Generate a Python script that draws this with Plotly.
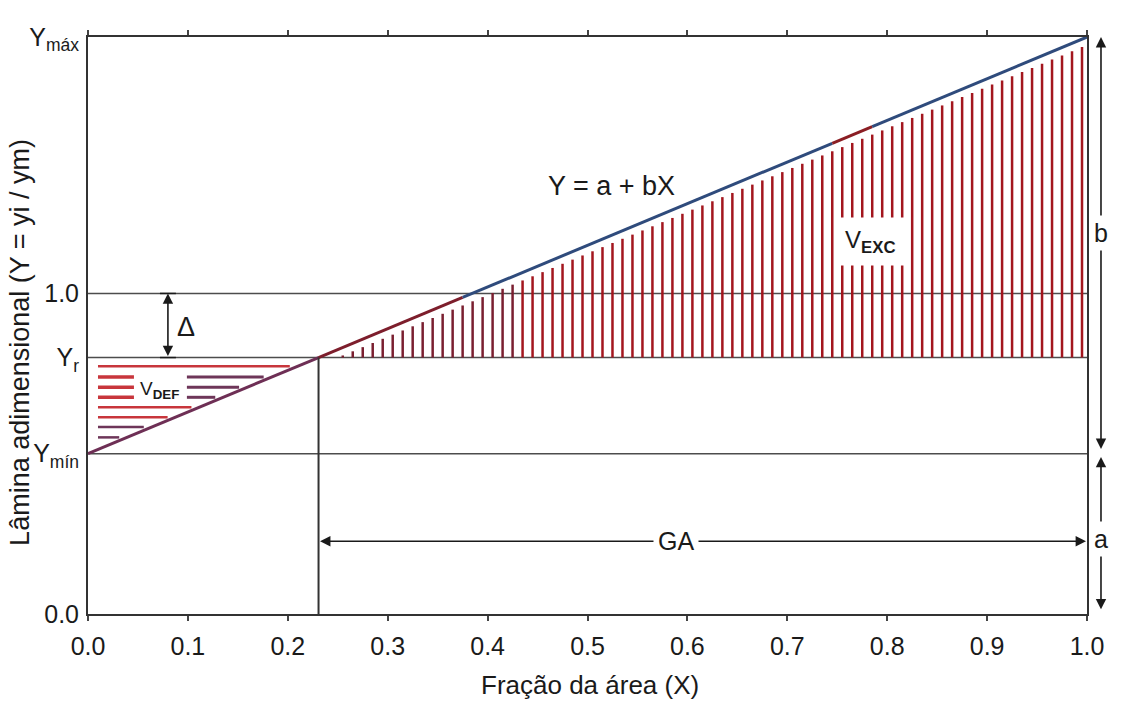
import numpy as np
import plotly.graph_objects as go

# Linear model Y = a + bX
A = 0.5          # intercept (Y at X = 0)
B = 1.3          # slope
Y_R = 0.8        # reference depth Yr
Y_MIN = A
Y_MAX = A + B
X_R = (Y_R - A) / B

# Axis ticks
X_TICKS = [0.0, 0.1, 0.2, 0.3, 0.4, 0.5, 0.6, 0.7, 0.8, 0.9, 1.0]
X_TICK_TEXT = ["0.0", "0.1", "0.2", "0.3", "0.4", "0.5", "0.6", "0.7", "0.8", "0.9", "1.0"]
Y_TICKS = [0.0, Y_MIN, Y_R, 1.0, Y_MAX]
Y_TICK_TEXT = ["0.0", "Y<sub>mín</sub>", "Y<sub>r</sub>", "1.0", "Y<sub>máx</sub>"]

# Horizontal hatch levels of the deficit area (V_DEF)
DEF_LEVELS = [0.773, 0.739, 0.707, 0.676, 0.645, 0.614, 0.583, 0.551]
DEF_COLORS = ["#c8363c", "#c8363c", "#c8363c", "#c8363c", "#c8363c", "#c8363c", "#6e3659", "#6e3659"]
DEF_SPLIT = [False, True, True, True, False, False, False, False]

# Vertical hatch of the excess area (V_EXC)
HATCH_STEP = 0.01
EXC_X = np.round(np.arange(0.255, 1.0, HATCH_STEP), 3)

RED = "#a3161e"
MAROON = "#7a1f30"
NAVY = "#2f4b7c"
FRAME = "#333333"
GRID = "#4d4d4d"
INK = "#1a1a1a"
FONT = "Arial, Liberation Sans, sans-serif"


def y_line(x):
    return A + B * x


fig = go.Figure()

# --- deficit hatch (horizontal strokes between line and Yr)
for lvl, col, split in zip(DEF_LEVELS, DEF_COLORS, DEF_SPLIT):
    x_end = (lvl - A) / B - 0.008
    if split:
        fig.add_trace(go.Scatter(x=[0.01, 0.046], y=[lvl, lvl], mode="lines",
                                 line=dict(color="#c8363c", width=3.5), hoverinfo="skip"))
        fig.add_trace(go.Scatter(x=[0.099, x_end], y=[lvl, lvl], mode="lines",
                                 line=dict(color="#6e3659", width=3), hoverinfo="skip"))
    else:
        fig.add_trace(go.Scatter(x=[0.01, x_end], y=[lvl, lvl], mode="lines",
                                 line=dict(color=col, width=2.5), hoverinfo="skip"))

# --- excess hatch (vertical strokes between Yr and line)
for color, sel in ((MAROON, EXC_X < 0.43), (RED, EXC_X >= 0.43)):
    xs, ys = [], []
    for xv in EXC_X[sel]:
        top = y_line(xv) - 0.025
        if top <= Y_R:
            continue
        xs += [xv, xv, None]
        ys += [Y_R, top, None]
    fig.add_trace(go.Scatter(x=xs, y=ys, mode="lines",
                             line=dict(color=color, width=2.5), hoverinfo="skip"))

# --- the regression line, drawn in coloured pieces
LINE_PIECES = [(0.0, X_R, "#6e2f55"), (X_R, 0.375, "#7d1e2c"), (0.375, 0.745, NAVY),
               (0.745, 0.785, "#8b1e24"), (0.785, 1.0, NAVY)]
for x0, x1, col in LINE_PIECES:
    fig.add_trace(go.Scatter(x=[x0, x1], y=[y_line(x0), y_line(x1)], mode="lines",
                             line=dict(color=col, width=3), hoverinfo="skip"))

# --- reference lines
shapes = []
for yv in (1.0, Y_R, Y_MIN):
    shapes.append(dict(type="line", xref="x", yref="y", x0=0, x1=1, y0=yv, y1=yv,
                       line=dict(color=GRID, width=1.6), layer="below"))
shapes.append(dict(type="line", xref="x", yref="y", x0=X_R, x1=X_R, y0=0, y1=Y_R,
                   line=dict(color=FRAME, width=2)))

annotations = []


def dbl_arrow(x0, y0, x1, y1, xref="x"):
    if xref == "paper":
        axref, ax = "pixel", 0
    else:
        axref, ax = xref, x0
    annotations.append(dict(x=x1, y=y1, ax=ax, ay=y0, xref=xref, yref="y",
                            axref=axref, ayref="y", text="", showarrow=True,
                            arrowhead=2, startarrowhead=2, arrowside="end+start",
                            arrowsize=1.3, startarrowsize=1.3, arrowwidth=1.6,
                            arrowcolor=INK))


# Δ between 1.0 and Yr
dbl_arrow(0.08, Y_R, 0.08, 1.0)
shapes.append(dict(type="line", xref="x", yref="y", x0=0.072, x1=0.088, y0=1.0, y1=1.0,
                   line=dict(color=INK, width=1.5)))
shapes.append(dict(type="line", xref="x", yref="y", x0=0.072, x1=0.088, y0=Y_R, y1=Y_R,
                   line=dict(color=INK, width=1.5)))
annotations.append(dict(x=0.098, y=0.895, xref="x", yref="y", text="Δ", showarrow=False,
                        font=dict(size=27, color=INK, family=FONT)))

# GA
dbl_arrow(X_R, 0.227, 0.999, 0.227)
annotations.append(dict(x=0.589, y=0.227, xref="x", yref="y", text="GA", showarrow=False,
                        bgcolor="white", borderpad=4,
                        font=dict(size=25, color=INK, family=FONT)))

# b and a on the right side
dbl_arrow(1.014, Y_MIN + 0.01, 1.014, Y_MAX, xref="paper")
annotations.append(dict(x=1.014, y=1.19, xref="paper", yref="y", text="b", showarrow=False,
                        xanchor="center", yanchor="middle", bgcolor="white", borderpad=3,
                        font=dict(size=25, color=INK, family=FONT)))
dbl_arrow(1.014, 0.01, 1.014, Y_MIN - 0.01, xref="paper")
annotations.append(dict(x=1.014, y=0.235, xref="paper", yref="y", text="a",
                        xanchor="center", yanchor="middle", showarrow=False,
                        bgcolor="white", borderpad=3,
                        font=dict(size=25, color=INK, family=FONT)))

# area labels
annotations.append(dict(x=0.524, y=1.336, xref="x", yref="y", text="Y = a + bX", showarrow=False,
                        font=dict(size=27, color=INK, family=FONT)))
annotations.append(dict(x=0.783, y=1.162, xref="x", yref="y", text="V<sub><b>EXC</b></sub>",
                        showarrow=False, bgcolor="white", borderpad=8,
                        font=dict(size=24, color=INK, family=FONT)))
annotations.append(dict(x=0.072, y=0.70, xref="x", yref="y", text="V<sub><b>DEF</b></sub>",
                        showarrow=False, bgcolor="white", borderpad=3,
                        font=dict(size=19, color=INK, family=FONT)))

# axis titles
annotations.append(dict(x=-0.068, y=0.47, xref="paper", yref="paper", textangle=-90,
                        text="Lâmina adimensional (Y = yi / ym)", showarrow=False,
                        xanchor="center", yanchor="middle",
                        font=dict(size=27, color=INK, family=FONT)))
annotations.append(dict(x=0.503, y=-0.123, xref="paper", yref="paper",
                        text="Fração da área (X)", showarrow=False,
                        xanchor="center", yanchor="middle",
                        font=dict(size=26, color=INK, family=FONT)))

fig.update_layout(
    width=1121, height=703,
    margin=dict(l=88, r=34, t=37, b=89),
    paper_bgcolor="white", plot_bgcolor="white",
    showlegend=False,
    font=dict(family=FONT, size=20, color=INK),
    shapes=shapes, annotations=annotations,
    xaxis=dict(range=[0, 1], tickvals=X_TICKS, ticktext=X_TICK_TEXT,
               showgrid=False, zeroline=False, showline=True, linecolor=FRAME,
               linewidth=2, mirror="ticks", ticks="outside", ticklen=5, tickwidth=1.5,
               tickcolor="#444", ticklabelstandoff=4, automargin=False,
               tickfont=dict(size=25, family=FONT, color=INK)),
    yaxis=dict(range=[0, Y_MAX], tickvals=Y_TICKS, ticktext=Y_TICK_TEXT,
               showgrid=False, zeroline=False, showline=True, linecolor=FRAME,
               linewidth=2, mirror=True, ticks="", ticklabelstandoff=2, automargin=False,
               tickfont=dict(size=25, family=FONT, color=INK)),
)

fig.write_html("out.html")
